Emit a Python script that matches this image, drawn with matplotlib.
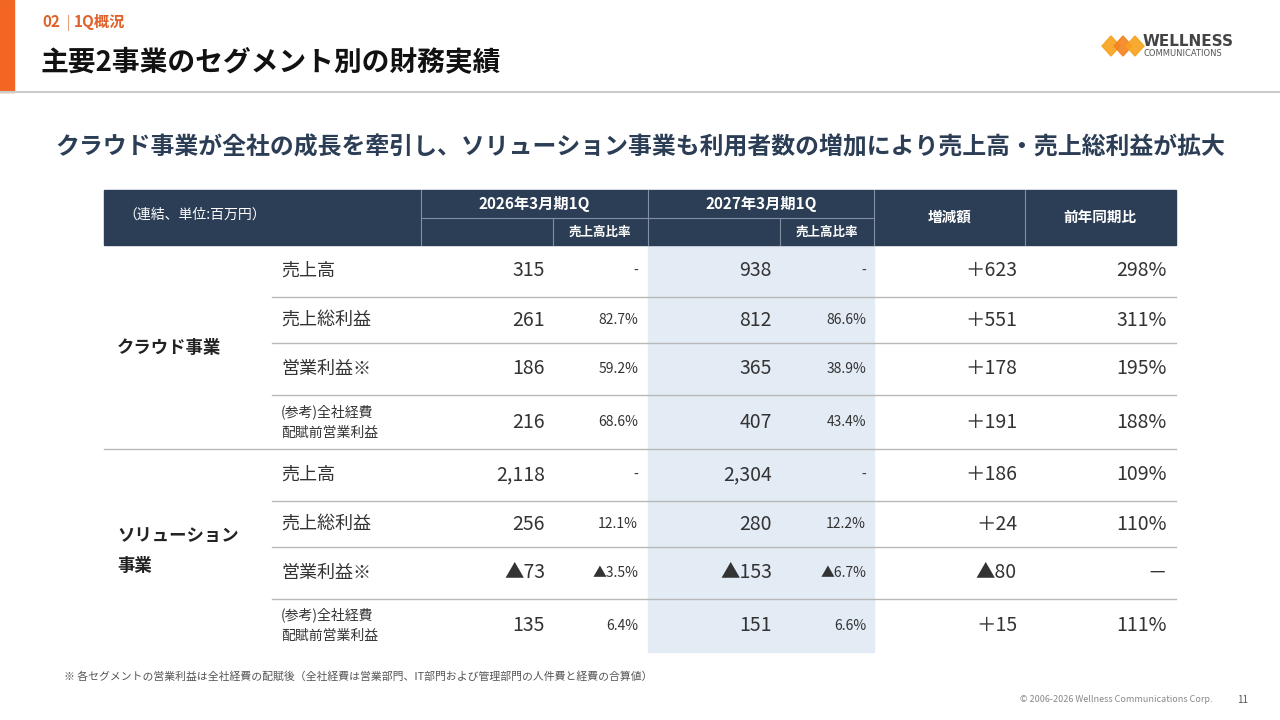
import matplotlib.pyplot as plt
from matplotlib.patches import Rectangle, Polygon

plt.rcParams['font.family'] = ['Noto Sans CJK JP', 'DejaVu Sans']

# data
row_labels = ['売上高', '売上総利益', '営業利益※', '(参考)全社経費\n配賦前営業利益',
              '売上高', '売上総利益', '営業利益※', '(参考)全社経費\n配賦前営業利益']
val_2026 = ['315', '261', '186', '216', '2,118', '256', '▲73', '135']
pct_2026 = ['-', '82.7%', '59.2%', '68.6%', '-', '12.1%', '▲3.5%', '6.4%']
val_2027 = ['938', '812', '365', '407', '2,304', '280', '▲153', '151']
pct_2027 = ['-', '86.6%', '38.9%', '43.4%', '-', '12.2%', '▲6.7%', '6.6%']
diff = ['＋623', '＋551', '＋178', '＋191', '＋186', '＋24', '▲80', '＋15']
yoy = ['298%', '311%', '195%', '188%', '109%', '110%', '－', '111%']
segments = ['クラウド事業', 'ソリューション\n事業']

row_edges = [245, 297, 343, 395, 449, 501, 547, 599, 652]

navy = '#2c3e55'
text_c = '#333333'

fig = plt.figure(figsize=(12.8, 7.2), dpi=100)
ax = fig.add_axes([0, 0, 1, 1])
ax.set_xlim(0, 1280)
ax.set_ylim(720, 0)
ax.axis('off')

# header band
ax.add_patch(Rectangle((0, 0), 14, 92, color='#f26522'))
ax.plot([0, 1280], [92, 92], color='#cccccc', lw=1.5)
ax.text(42, 22, '02', color='#e0622a', fontsize=11, fontweight='bold', va='center')
ax.plot([68, 68], [15, 30], color='#e8a080', lw=0.8)
ax.text(74, 22, '1Q概況', color='#e0622a', fontsize=11, fontweight='bold', va='center')
ax.text(40, 62, '主要2事業のセグメント別の財務実績', fontsize=20, fontweight='bold',
        va='center', color='#111111')

# logo
for dx, c in [(0, '#f7a21b'), (12, '#f58220'), (24, '#f7a21b')]:
    ax.add_patch(Polygon([(1102 + dx, 46), (1111 + dx, 36), (1120 + dx, 46), (1111 + dx, 56)],
                         color=c, alpha=0.9))
ax.text(1143, 41, 'WELLNESS', fontsize=11, fontweight='bold', color='#444444', va='center',
        family='DejaVu Sans')
ax.text(1143, 54, 'COMMUNICATIONS', fontsize=6, color='#555555', va='center',
        family='DejaVu Sans')

ax.text(640, 147, 'クラウド事業が全社の成長を牽引し、ソリューション事業も利用者数の増加により売上高・売上総利益が拡大',
        fontsize=17.2, fontweight='bold', color='#2c3e55', ha='center', va='center')

# table header
ax.add_patch(Rectangle((104, 190), 1072, 55, color=navy))
wl = dict(color='#8090a0', lw=0.8)
for x in [421, 648, 874, 1025]:
    ax.plot([x, x], [190, 245], **wl)
ax.plot([421, 874], [218, 218], **wl)
for x in [553, 780]:
    ax.plot([x, x], [218, 245], **wl)
ax.text(195, 215, '（連結、単位:百万円）', color='white', fontsize=10, ha='center', va='center')
ax.text(534, 204, '2026年3月期1Q', color='white', fontsize=11, fontweight='bold', ha='center', va='center')
ax.text(761, 204, '2027年3月期1Q', color='white', fontsize=11, fontweight='bold', ha='center', va='center')
ax.text(600, 232, '売上高比率', color='white', fontsize=9, fontweight='bold', ha='center', va='center')
ax.text(827, 232, '売上高比率', color='white', fontsize=9, fontweight='bold', ha='center', va='center')
ax.text(950, 217, '増減額', color='white', fontsize=10.5, fontweight='bold', ha='center', va='center')
ax.text(1100, 217, '前年同期比', color='white', fontsize=10.5, fontweight='bold', ha='center', va='center')

# highlight column
ax.add_patch(Rectangle((648, 245), 226, 407, color='#e3ebf5', zorder=0))

# rows
for i, lab in enumerate(row_labels):
    y = (row_edges[i] + row_edges[i + 1]) / 2
    if '\n' in lab:
        ax.text(281, y, lab, fontsize=10, va='center', color=text_c, linespacing=1.6)
    else:
        ax.text(281, y, lab, fontsize=13, va='center', color=text_c)
    ax.text(545, y, val_2026[i], fontsize=14, ha='right', va='center', color=text_c)
    ax.text(638, y, pct_2026[i], fontsize=10, ha='right', va='center', color=text_c)
    ax.text(772, y, val_2027[i], fontsize=14, ha='right', va='center', color=text_c)
    ax.text(866, y, pct_2027[i], fontsize=10, ha='right', va='center', color=text_c)
    ax.text(1017, y, diff[i], fontsize=14, ha='right', va='center', color=text_c)
    ax.text(1167, y, yoy[i], fontsize=14, ha='right', va='center', color=text_c)

for i, e in enumerate(row_edges[1:-1], start=1):
    x0 = 104 if i == 4 else 272
    ax.plot([x0, 1176], [e, e], color='#b8b8b8', lw=1)

ax.text(117, 348, segments[0], fontsize=12.5, fontweight='bold', va='center', color='#222222')
ax.text(117, 551, segments[1], fontsize=12.5, fontweight='bold', va='center', color='#222222',
        linespacing=1.9)

# footer
ax.text(64, 677, '※ 各セグメントの営業利益は全社経費の配賦後（全社経費は営業部門、IT部門および管理部門の人件費と経費の合算値）',
        fontsize=7.8, color='#555555', va='center')
ax.text(1213, 700, '© 2006-2026 Wellness Communications Corp.', fontsize=6.5, color='#888888',
        ha='right', va='center')
ax.text(1243, 700, '11', fontsize=7, color='#555555', ha='center', va='center')

fig.savefig('out.png', dpi=100)
